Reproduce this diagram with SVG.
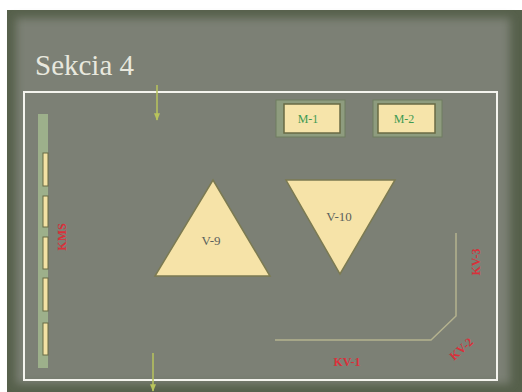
<svg xmlns="http://www.w3.org/2000/svg" width="522" height="392" viewBox="0 0 522 392">
  <defs>
    <filter id="soft" x="-5%" y="-5%" width="110%" height="110%">
      <feGaussianBlur stdDeviation="4"/>
    </filter>
    <marker id="arr" viewBox="0 0 10 10" refX="9" refY="5" markerWidth="5" markerHeight="5" orient="auto">
      <path d="M0,1 L10,5 L0,9 z" fill="#b9c45c"/>
    </marker>
    <style>
      .frame{fill:#8e9c7e;stroke:#6f7c60;stroke-width:1}
      .box{fill:#f6e4aa;stroke:#686a44;stroke-width:1.5}
      .tri{fill:#f6e3a8;stroke:#7b7a52;stroke-width:1.5}
      .slot{fill:#f3e2a4;stroke:#686a44;stroke-width:1}
      .mlab{font-family:"Liberation Serif",serif;font-size:12px;fill:#3e9a52;text-anchor:middle}
      .vlab{font-family:"Liberation Serif",serif;font-size:13px;fill:#5b615d;text-anchor:middle}
      .red{font-family:"Liberation Serif",serif;font-size:12px;font-weight:bold;fill:#d9303a;text-anchor:middle}
      .arrow{stroke:#b9c45c;stroke-width:1.5;fill:none}
      .kv{stroke:#b4b28f;stroke-width:1.5;fill:none}
    </style>
  </defs>

  <!-- background -->
  <rect x="0" y="0" width="522" height="392" fill="#ffffff"/>
  <rect x="7" y="10" width="515" height="382" fill="#56604b"/>
  <rect x="16" y="18" width="494" height="366" fill="#7b8074" filter="url(#soft)"/>
  <rect x="24" y="92" width="473" height="288" fill="none" stroke="#f4f4ee" stroke-width="2"/>

  <text x="35" y="75" font-family="Liberation Serif, serif" font-size="29" fill="#e8e8de">Sekcia 4</text>

  <g id="connectors">
    <line class="arrow" x1="157" y1="85" x2="157" y2="120" marker-end="url(#arr)"/>
    <line class="arrow" x1="153" y1="353" x2="153" y2="391" marker-end="url(#arr)"/>
    <polyline class="kv" points="275,340 431,340 456,316 456,233"/>
  </g>

  <g id="kms">
    <rect x="38" y="114" width="10" height="254" fill="#9db08b"/>
    <rect class="slot" x="43" y="153" width="5" height="33"/>
    <rect class="slot" x="43" y="196" width="5" height="31"/>
    <rect class="slot" x="43" y="237" width="5" height="32"/>
    <rect class="slot" x="43" y="278" width="5" height="33"/>
    <rect class="slot" x="43" y="323" width="5" height="32"/>
    <text class="red" transform="translate(66,237) rotate(-90)">KMS</text>
  </g>

  <g id="m1">
    <rect class="frame" x="276" y="100" width="69" height="37"/>
    <rect class="box" x="284" y="104" width="56" height="29"/>
    <text class="mlab" x="308" y="123">M-1</text>
  </g>

  <g id="m2">
    <rect class="frame" x="373" y="100" width="69" height="37"/>
    <rect class="box" x="378" y="104" width="57" height="29"/>
    <text class="mlab" x="404" y="123">M-2</text>
  </g>

  <g id="v9">
    <polygon class="tri" points="213,180 270,276 155,276"/>
    <text class="vlab" x="211" y="245">V-9</text>
  </g>

  <g id="v10">
    <polygon class="tri" points="286,180 395,180 340,274"/>
    <text class="vlab" x="339" y="221">V-10</text>
  </g>

  <g id="kv1"><text class="red" x="347" y="366">KV-1</text></g>
  <g id="kv2"><text class="red" transform="translate(464,352) rotate(-42)">KV-2</text></g>
  <g id="kv3"><text class="red" transform="translate(480,262) rotate(-90)">KV-3</text></g>
</svg>
